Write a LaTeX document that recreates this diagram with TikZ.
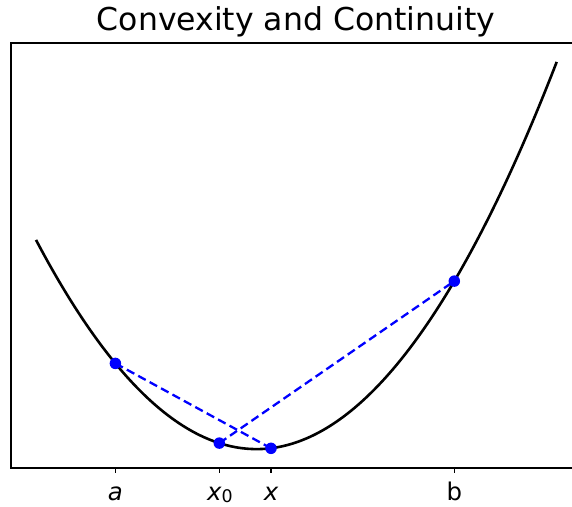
\documentclass[tikz,border=0pt]{standalone}
\usepackage{fontspec}
\setmainfont{DejaVu Sans}
\begin{document}
\begin{tikzpicture}[x=1pt,y=-1pt,
  curvestyle/.style={line width=2.6pt, black, line join=round},
  framestyle/.style={line width=1.3pt, black},
  tickstyle/.style={line width=1.1pt, black},
  dashln/.style={blue, line width=2.3pt, dash pattern=on 8.5pt off 4.5pt},
  dotstyle/.style={circle, fill=blue, draw=none, inner sep=0pt, minimum size=11.5pt},
  ticklbl/.style={anchor=base, inner sep=0pt, font=\fontsize{24.4}{28}\selectfont},
  titlestyle/.style={anchor=base, inner sep=0pt, font=\fontsize{31.5}{36}\selectfont}]
\useasboundingbox (0,0) rectangle (572,506);
% title
\node[titlestyle] (title) at (296,30.7) {Convexity and Continuity};
% axes frame
\coordinate (tr) at (572,43);
\coordinate (tl) at (11,43);
\coordinate (bl) at (11,468);
\coordinate (br) at (572,468);
\draw[framestyle] (tr) -- (tl) -- (bl) -- (br);
% ticks
\coordinate (ta) at (115.4,468);
\coordinate (tx0) at (219.3,468);
\coordinate (tx) at (271,468);
\coordinate (tb) at (454.3,468);
\foreach \t in {ta,tx0,tx,tb} \draw[tickstyle] (\t) -- ++(0,5);
% tick labels
\node[ticklbl] (la) at (115.4,500) {\itshape a};
\node[ticklbl] (lx0) at (220,500) {\itshape x\raisebox{-2.4pt}{\upshape\fontsize{17.4}{20}\selectfont 0}};
\node[ticklbl] (lx) at (271,500) {\itshape x};
\node[ticklbl] (lb) at (454.3,500) {b};
% curve
\draw[curvestyle] plot[domain=36:556.7, samples=150, smooth] (\x, {449.1 - 42.99*((\x-256.6)/100)^2});
% points
\coordinate (pa) at (115.4,363.4);
\coordinate (px0) at (219.3,443.1);
\coordinate (px) at (271,448.3);
\coordinate (pb) at (454.3,281.1);
\draw[dashln] (pa) -- (px);
\draw[dashln] (px0) -- (pb);
\node[dotstyle] (A) at (pa) {};
\node[dotstyle] (X0) at (px0) {};
\node[dotstyle] (X) at (px) {};
\node[dotstyle] (B) at (pb) {};
\end{tikzpicture}
\end{document}
